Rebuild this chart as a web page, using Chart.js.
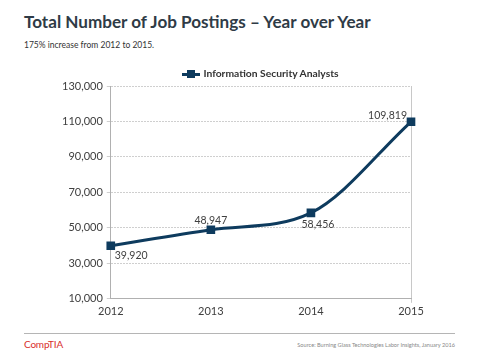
<!DOCTYPE html>
<html>
<head>
<meta charset="utf-8">
<script src="https://cdn.jsdelivr.net/npm/chart.js@4"></script>
<style>
  body { margin: 0; width: 480px; height: 360px; background: #fff; font-family: Lato, "Open Sans", sans-serif; position: relative; overflow: hidden; }
  #title { position: absolute; left: 24px; top: 11px; font-size: 17.1px; font-weight: bold; color: #2f3b46; white-space: nowrap; }
  #sub { position: absolute; left: 24px; top: 40px; font-size: 8.5px; color: #333; }
  #wrap { position: absolute; left: 0; top: 60px; width: 480px; height: 260px; }
  #legend { position: absolute; left: 0; top: 67px; width: 521px; text-align: center; font-size: 10.3px; font-weight: bold; color: #333; white-space: nowrap; }
  #legend canvas { vertical-align: -1px; margin-right: 3px; }
  #rule { position: absolute; left: 24px; top: 333px; width: 431px; height: 1px; background: #b5b5b5; }
  #logo { position: absolute; left: 24px; top: 338px; font-size: 10px; color: #d9302c; letter-spacing: -0.2px; }
  #src { position: absolute; right: 25px; top: 341px; font-size: 5.6px; color: #888; }
</style>
</head>
<body>
<div id="title">Total Number of Job Postings – Year over Year</div>
<div id="sub">175% increase from 2012 to 2015.</div>
<div id="wrap"><canvas id="myChart"></canvas></div>
<div id="legend"></div>
<div id="rule"></div>
<div id="logo">CompTIA</div>
<div id="src">Source: Burning Glass Technologies Labor Insights, January 2016</div>
<script>
const years = ["2012", "2013", "2014", "2015"];
const analysts = [39920, 48947, 58456, 109819];
const seriesName = "Information Security Analysts";
const lineColor = "#0e3b5e";

// legend: line+square icon and series name, centred over the plot
const icon = document.createElement("canvas");
icon.width = 18; icon.height = 8;
const ic = icon.getContext("2d");
ic.fillStyle = lineColor;
ic.fillRect(0, 3, 18, 3);
ic.fillRect(5, 0, 8, 8);
const legend = document.getElementById("legend");
legend.appendChild(icon);
legend.appendChild(document.createTextNode(seriesName));

// value labels placed like the original
const labelPos = [
  { dx: 4, dy: 10, align: "left" },
  { dx: 0, dy: -9, align: "center" },
  { dx: 7, dy: 12, align: "center" },
  { dx: -4, dy: -6, align: "right" }
];
const valueLabels = {
  id: "valueLabels",
  afterDatasetsDraw(chart) {
    const c = chart.ctx;
    const meta = chart.getDatasetMeta(0);
    c.save();
    c.font = "10.5px Lato, 'Open Sans', sans-serif";
    c.fillStyle = "#404040";
    c.textBaseline = "middle";
    meta.data.forEach((pt, i) => {
      const p = labelPos[i];
      c.textAlign = p.align;
      c.fillText(analysts[i].toLocaleString("en-US"), pt.x + p.dx, pt.y + p.dy);
    });
    c.restore();
  }
};

const ctx = document.getElementById("myChart");
new Chart(ctx, {
  type: "line",
  data: {
    labels: years,
    datasets: [{
      label: seriesName,
      data: analysts,
      borderColor: lineColor,
      backgroundColor: lineColor,
      borderWidth: 3,
      tension: 0.4,
      cubicInterpolationMode: "monotone",
      pointStyle: "rect",
      pointRadius: 4,
      pointBackgroundColor: lineColor,
      pointBorderColor: lineColor
    }]
  },
  options: {
    responsive: true,
    maintainAspectRatio: false,
    animation: false,
    layout: { padding: { left: 58, right: 69, top: 26, bottom: 0 } },
    plugins: {
      legend: { display: false },
      tooltip: { enabled: false }
    },
    scales: {
      x: {
        offset: false,
        grid: {
          color: (c) => c.index === years.length - 1 ? "#c8c8c8" : "rgba(0,0,0,0)",
          drawTicks: true,
          tickLength: 4
        },
        border: { color: "#b0b0b0" },
        ticks: { color: "#404040", font: { family: "Lato, 'Open Sans', sans-serif", size: 11 }, padding: 2 }
      },
      y: {
        min: 10000,
        max: 130000,
        grid: { color: "#cfcfcf", tickLength: 4 },
        border: { color: "#b0b0b0", dash: [2, 1] },
        ticks: {
          stepSize: 20000,
          color: "#404040",
          font: { family: "Lato, 'Open Sans', sans-serif", size: 11 },
          padding: 4,
          callback: (v) => v.toLocaleString("en-US")
        }
      }
    }
  },
  plugins: [valueLabels]
});
</script>
</body>
</html>
